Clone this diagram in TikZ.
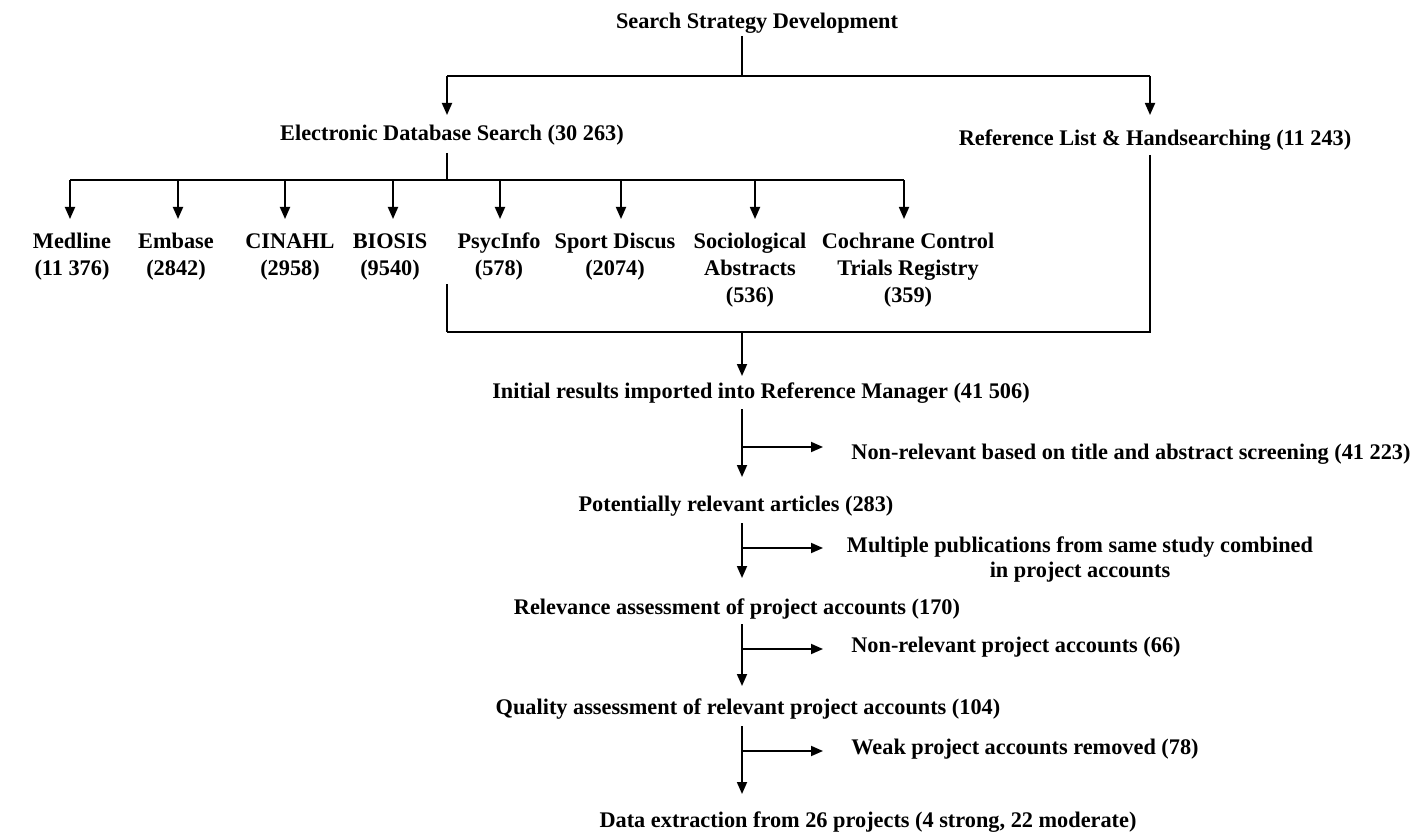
\documentclass[tikz,border=0pt]{standalone}
\usepackage{fontspec}
\setmainfont{Liberation Serif}
\usetikzlibrary{arrows.meta}
% evens out the first-line height of stacked labels
\newcommand\fl{\vphantom{Mdl}}
\begin{document}
\begin{tikzpicture}[x=1pt,y=-1pt,
  txt/.style={font=\bfseries\fontsize{22.3}{27}\selectfont, inner sep=0pt,
              text height=14.8pt, text depth=0pt},
  multi/.style={font=\bfseries\fontsize{22.3}{27}\selectfont, inner sep=0pt,
                align=center, anchor=north},
  link/.style={line width=1.8pt},
  arr/.style={link, -{Triangle[length=12pt,width=10pt]}}]
\useasboundingbox (0,0) rectangle (1418,834);

% ---- labels ----
\node[txt] (title) at (757,21) {Search Strategy Development};
\node[txt] (elec) at (452,133) {Electronic Database Search (30 263)};
\node[txt] (ref) at (1155,138) {Reference List \& Handsearching (11 243)};

\node[multi] (med)  at (72,233)  {\fl Medline\\(11 376)};
\node[multi] (emb)  at (176,233) {\fl Embase\\(2842)};
\node[multi] (cin)  at (290,233) {\fl CINAHL\\(2958)};
\node[multi] (bio)  at (390,233) {\fl BIOSIS\\(9540)};
\node[multi] (psy)  at (499,233) {\fl PsycInfo\\(578)};
\node[multi] (spo)  at (615,233) {\fl Sport Discus\\(2074)};
\node[multi] (soc)  at (750,233) {\fl Sociological\\Abstracts\\(536)};
\node[multi] (coc)  at (908,233) {\fl Cochrane Control\\Trials Registry\\(359)};

\node[txt] (init) at (761,391) {Initial results imported into Reference Manager (41 506)};
\node[txt] (nr1)  at (1131,452) {Non-relevant based on title and abstract screening (41 223)};
\node[txt] (pot)  at (736,504) {Potentially relevant articles (283)};
\node[multi, font=\bfseries\fontsize{22.3}{25}\selectfont] (mult) at (1080,537)
  {\fl Multiple publications from same study combined\\in project accounts};
\node[txt] (rel)  at (737,607) {Relevance assessment of project accounts (170)};
\node[txt] (nr2)  at (1016,645) {Non-relevant project accounts (66)};
\node[txt] (qual) at (748,707) {Quality assessment of relevant project accounts (104)};
\node[txt] (weak) at (1025,747) {Weak project accounts removed (78)};
\node[txt] (data) at (868,820) {Data extraction from 26 projects (4 strong, 22 moderate)};

% ---- junction points ----
\coordinate (sTop) at (742,36);
\coordinate (sMid) at (742,76);
\coordinate (sL) at (447,76);
\coordinate (sR) at (1150,76);
\coordinate (eTop) at (447,153);
\coordinate (eBar) at (447,180);
\coordinate (dbL) at (70,180);
\coordinate (dbR) at (904,180);
\coordinate (rTop) at (1150,155);
\coordinate (rBot) at (1150,332);
\coordinate (pTop) at (447,284);
\coordinate (pBot) at (447,332);
\coordinate (mBot) at (742,332);

% ---- search split ----
\draw[link] (sTop) -- (sMid);
\draw[link] (sL) -- (sR);
\draw[arr] (sL) -- ++(0,39);
\draw[arr] (sR) -- ++(0,39);

% ---- database fan-out ----
\draw[link] (eTop) -- (eBar);
\draw[link] (dbL) -- (dbR);
\foreach \x in {70,178,285,393,500,621,755,904}
  \draw[arr] (\x,180) -- (\x,219);

% ---- merge ----
\draw[link] (rTop) -- (rBot) -- (pBot);
\draw[link] (pTop) -- (pBot);
\draw[arr] (mBot) -- ++(0,44);

% ---- screening steps ----
\draw[arr] (742,409) -- (742,477);
\draw[arr] (742,447) -- (823,447);
\draw[arr] (742,523) -- (742,578);
\draw[arr] (742,548) -- (823,548);
\draw[arr] (742,624) -- (742,686);
\draw[arr] (742,649) -- (823,649);
\draw[arr] (742,726) -- (742,794);
\draw[arr] (742,751) -- (823,751);
\end{tikzpicture}
\end{document}
